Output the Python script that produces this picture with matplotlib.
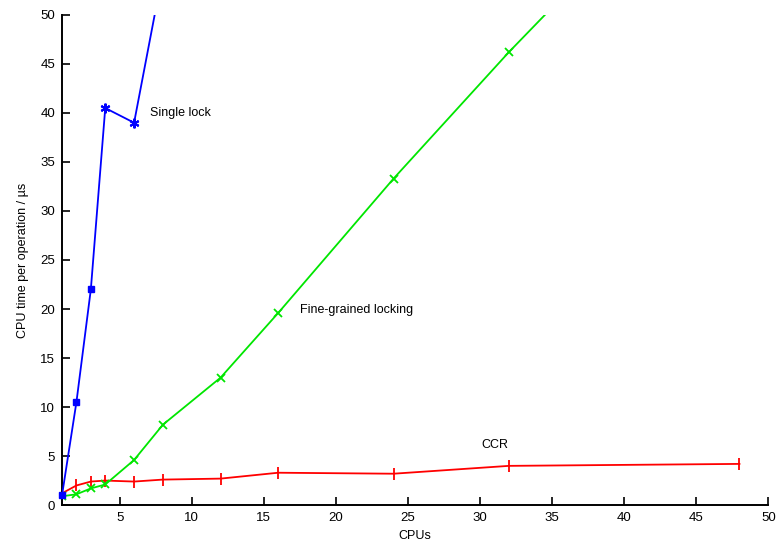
import matplotlib
matplotlib.use("Agg")
import matplotlib.pyplot as plt

plt.rcParams["font.family"] = ["Liberation Sans", "DejaVu Sans"]

# CPU counts sampled for each lock scheme
cpus = [1, 2, 3, 4, 6, 8, 12, 16, 24, 32, 48]

single_cpus = [1, 2, 3, 4, 6, 8]
single_lock = [1.0, 10.5, 22.0, 40.5, 39.0, 54.4]

fine_grained = [0.9, 1.1, 1.7, 2.1, 4.6, 8.2, 13.0, 19.6, 33.3, 46.2, 70.5]
ccr = [1.2, 2.0, 2.4, 2.5, 2.4, 2.6, 2.7, 3.3, 3.2, 4.0, 4.2]

x_ticks = [5, 10, 15, 20, 25, 30, 35, 40, 45, 50]
y_ticks = [0, 5, 10, 15, 20, 25, 30, 35, 40, 45, 50]

BLUE = "#0000ff"
GREEN = "#00e600"
RED = "#ff0000"

fig, ax = plt.subplots(figsize=(7.8, 5.52), dpi=100)
fig.subplots_adjust(left=0.0795, right=0.985, bottom=0.085, top=0.973)

# single lock: squares for the first three points, asterisks after
ax.plot(single_cpus, single_lock, color=BLUE, lw=1.3, clip_on=True, zorder=4)
ax.plot(single_cpus[:3], single_lock[:3], ls="none", marker="s", ms=5,
        color=BLUE, clip_on=False, zorder=5)
ax.plot(single_cpus[3:5], single_lock[3:5], ls="none", marker=(6, 2, 0),
        ms=7, mew=1.5, color=BLUE, zorder=5)

ax.plot(cpus, fine_grained, color=GREEN, lw=1.3, marker="x", ms=6, mew=1.3,
        zorder=3)
ax.plot(cpus, ccr, color=RED, lw=1.3, marker="|", ms=8, mew=1.3, zorder=2)

ax.text(7.1, 40, "Single lock", fontsize=9, va="center", ha="left")
ax.text(17.5, 19.9, "Fine-grained locking", fontsize=9, va="center", ha="left")
ax.text(30.1, 6.1, "CCR", fontsize=9, va="center", ha="left")

ax.set_xlim(1, 50)
ax.set_ylim(0, 50)
ax.set_xticks(x_ticks)
ax.set_yticks(y_ticks)
ax.tick_params(direction="in", length=6, width=1.2, labelsize=9.5, pad=5)
for side in ("top", "right"):
    ax.spines[side].set_visible(False)
for side in ("left", "bottom"):
    ax.spines[side].set_linewidth(1.4)

ax.set_xlabel("CPUs", fontsize=9, labelpad=4)
ax.set_ylabel("CPU time per operation / \u00b5s", fontsize=9, labelpad=8)

fig.savefig("out.png", dpi=100)
